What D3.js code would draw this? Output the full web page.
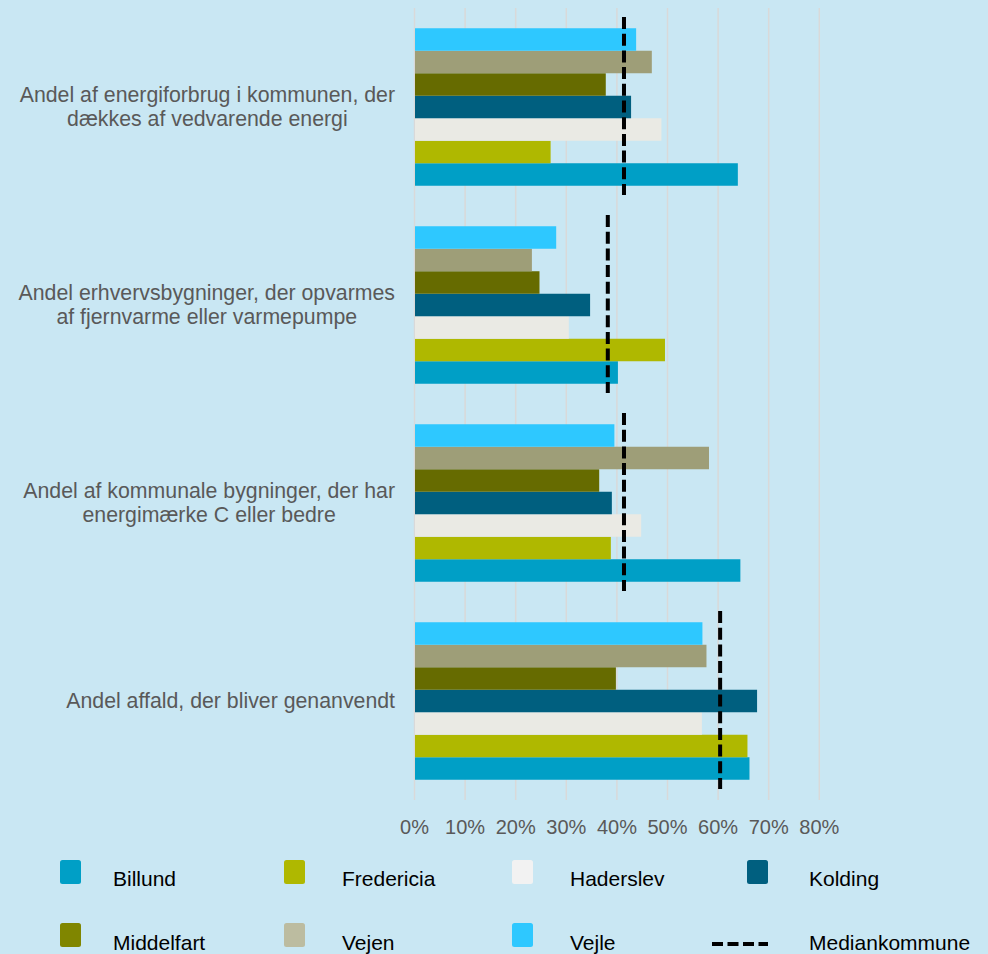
<!DOCTYPE html>
<html>
<head>
<meta charset="utf-8">
<title>Kommuner - energi og affald</title>
<style>
body { margin: 0; background: #c9e7f3; }
svg { display: block; font-family: "Liberation Sans", Arial, sans-serif; }
.grid line { stroke: #d9d9d9; stroke-width: 1.5px; }
.catlabel { font-size: 21.3px; fill: #595959; }
.tick text { font-size: 20px; fill: #595959; }
.legend text { font-size: 21px; fill: #000; }
</style>
</head>
<body>
<svg width="988" height="954"></svg>
<script src="https://cdn.jsdelivr.net/npm/d3@7"></script>
<script>

// categories (y axis), each split into its label lines
var categories = [
  ["Andel af energiforbrug i kommunen, der", "dækkes af vedvarende energi"],
  ["Andel erhvervsbygninger, der opvarmes", "af fjernvarme eller varmepumpe"],
  ["Andel af kommunale bygninger, der har", "energimærke C eller bedre"],
  ["Andel affald, der bliver genanvendt"]
];

var series = ["Billund", "Fredericia", "Haderslev", "Kolding", "Middelfart", "Vejen", "Vejle"];

// values in percent, one per category
var billund    = [64.0, 40.3, 64.5, 66.3];
var fredericia = [27.0, 49.6, 38.9, 65.9];
var haderslev  = [48.9, 30.6, 44.9, 56.9];
var kolding    = [42.9, 34.8, 39.1, 67.8];
var middelfart = [37.9, 24.8, 36.6, 39.9];
var vejen      = [47.0, 23.3, 58.3, 57.8];
var vejle      = [43.9, 28.1, 39.6, 57.0];
var median     = [41.5, 38.3, 41.5, 60.5];

var xTicks = [0, 10, 20, 30, 40, 50, 60, 70, 80];

var values = [billund, fredericia, haderslev, kolding, middelfart, vejen, vejle];

var barColor = {
  Billund: "#009fc6", Fredericia: "#afb800", Haderslev: "#eaeae4", Kolding: "#005f7f",
  Middelfart: "#666b00", Vejen: "#9e9e78", Vejle: "#2ec8ff"
};
var swatchColor = {
  Billund: "#009fc6", Fredericia: "#afb800", Haderslev: "#f2f2f2", Kolding: "#005f7f",
  Middelfart: "#808600", Vejen: "#bcbca0", Vejle: "#2ec8ff"
};

var svg = d3.select("svg");

var x = d3.scaleLinear().domain([0, 80]).range([414, 818.8]);

var y = d3.scaleBand()
    .domain(d3.range(categories.length))
    .range([8, 800]);

// bars inside a group: first series at the bottom (excel style)
var yInner = d3.scaleBand()
    .domain(series.slice().reverse())
    .range([-78.75, 78.75]);

// gridlines + tick labels
var axis = d3.axisBottom(x)
    .tickValues(xTicks)
    .tickSize(-(800 - 8))
    .tickPadding(20)
    .tickFormat(function(d) { return d + "%"; });

var gx = svg.append("g")
    .attr("class", "grid")
    .attr("transform", "translate(0,800)")
    .call(axis);
gx.select(".domain").remove();

// bars
var groups = svg.selectAll(".cat")
    .data(categories)
  .enter().append("g")
    .attr("class", "cat")
    .attr("transform", function(d, i) { return "translate(0," + (y(i) + y.bandwidth() / 2) + ")"; });

groups.each(function(d, i) {
  var g = d3.select(this);
  g.selectAll("rect")
      .data(series)
    .enter().append("rect")
      .attr("x", x(0) + 1)
      .attr("y", function(s) { return yInner(s); })
      .attr("height", yInner.bandwidth())
      .attr("width", function(s, j) { return x(values[j][i]) - x(0) - 1; })
      .attr("fill", function(s) { return barColor[s]; });

  g.append("line")
      .attr("x1", x(median[i]))
      .attr("x2", x(median[i]))
      .attr("y1", -90)
      .attr("y2", 88)
      .attr("stroke", "#000")
      .attr("stroke-width", 4)
      .attr("stroke-dasharray", "12,4.7");

  // category label, lines centred in a block right-aligned near the axis
  var t = g.append("text")
      .attr("class", "catlabel")
      .attr("text-anchor", "middle");
  var n = d.length;
  d.forEach(function(line, k) {
    t.append("tspan")
        .attr("y", -(n - 1) * 12 + 7 + k * 24)
        .text(line);
  });
  var widest = 0;
  t.selectAll("tspan").each(function() { widest = Math.max(widest, this.getComputedTextLength()); });
  t.selectAll("tspan").attr("x", 395 - widest / 2);
});

// legend
var legendItems = series.concat(["Mediankommune"]);
var colX = [60, 284, 512, 747];
var textX = [113, 342, 570, 809];
var rowY = [860, 923];
var rowText = [886, 950];

var legend = svg.append("g").attr("class", "legend");
legendItems.forEach(function(name, i) {
  var c = i % 4, r = Math.floor(i / 4);
  if (name === "Mediankommune") {
    legend.append("line")
        .attr("x1", colX[c] - 36 + 1).attr("x2", colX[c] + 21)
        .attr("y1", 944).attr("y2", 944)
        .attr("stroke", "#000")
        .attr("stroke-width", 4)
        .attr("stroke-dasharray", "11,4.5");
  } else {
    legend.append("rect")
        .attr("x", colX[c]).attr("y", rowY[r])
        .attr("width", 21).attr("height", 24)
        .attr("rx", 2.5)
        .attr("fill", swatchColor[name]);
  }
  legend.append("text")
      .attr("x", textX[c])
      .attr("y", rowText[r])
      .text(name);
});

</script>
</body>
</html>
